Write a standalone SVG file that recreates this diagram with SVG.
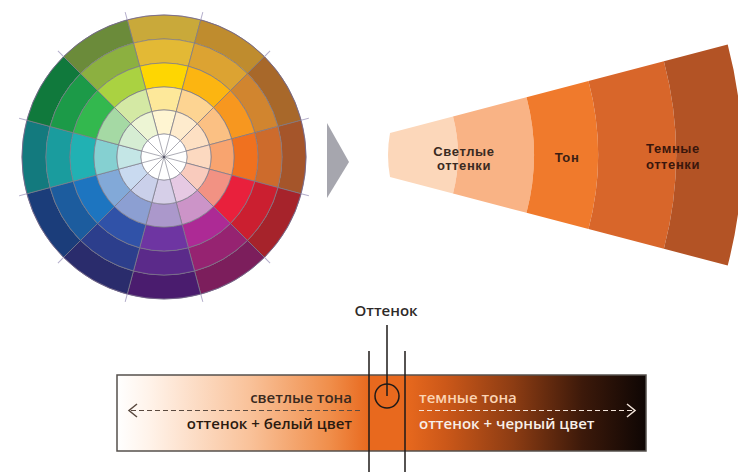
<svg xmlns="http://www.w3.org/2000/svg" xmlns:xlink="http://www.w3.org/1999/xlink" width="738" height="472" viewBox="0 0 738 472">
<style>
.seg{stroke:#7c7a88;stroke-width:0.7}
.tick{stroke:#b4aecb;stroke-width:1}
.hub{stroke:#8a8a96;stroke-width:0.7;fill:none}
.ft{font-family:"Liberation Sans",Arial,sans-serif;font-weight:700;font-size:13px;letter-spacing:0.6px;text-anchor:middle}
.bt{font-family:"Open Sans","DejaVu Sans",sans-serif;font-weight:600;font-size:15px}
.ln{stroke:#1e1a18;stroke-width:1.5;fill:none}
</style>
<defs>
<path id="rA" d="M-36.752,-137.161 A142,142 0 0 1 36.752,-137.161 L30.541,-113.979 A118,118 0 0 0 -30.541,-113.979Z"/>
<path id="rB" d="M-30.541,-113.979 A118,118 0 0 1 30.541,-113.979 L24.329,-90.797 A94,94 0 0 0 -24.329,-90.797Z"/>
<path id="rC" d="M-24.329,-90.797 A94,94 0 0 1 24.329,-90.797 L18.117,-67.615 A70,70 0 0 0 -18.117,-67.615Z"/>
<path id="rD" d="M-18.117,-67.615 A70,70 0 0 1 18.117,-67.615 L12.164,-45.399 A47,47 0 0 0 -12.164,-45.399Z"/>
<path id="rE" d="M-12.164,-45.399 A47,47 0 0 1 12.164,-45.399 L5.953,-22.216 A23,23 0 0 0 -5.953,-22.216Z"/>
<line id="tk" x1="-36.752" y1="-137.161" x2="-38.823" y2="-144.889"/>
<linearGradient id="barg" gradientUnits="userSpaceOnUse" x1="117" y1="0" x2="646" y2="0">
<stop offset="0" stop-color="#ffffff"/>
<stop offset="0.06" stop-color="#fff3ea"/>
<stop offset="0.25" stop-color="#f9c29a"/>
<stop offset="0.40" stop-color="#f08f4c"/>
<stop offset="0.477" stop-color="#e8691e"/>
<stop offset="0.545" stop-color="#e8691e"/>
<stop offset="0.62" stop-color="#cc5819"/>
<stop offset="0.75" stop-color="#8c3c13"/>
<stop offset="0.88" stop-color="#3c190a"/>
<stop offset="1" stop-color="#0e0604"/>
</linearGradient>
</defs>

<g id="wheel" transform="translate(164,157)">
<g class="seg">
<use xlink:href="#rA" fill="#c9a93a"/><use xlink:href="#rB" fill="#e3b935"/><use xlink:href="#rC" fill="#fed602"/><use xlink:href="#rD" fill="#fde89a"/><use xlink:href="#rE" fill="#fff5d2"/>
<g transform="rotate(30)"><use xlink:href="#rA" fill="#bf8c2e"/><use xlink:href="#rB" fill="#dca332"/><use xlink:href="#rC" fill="#fcb511"/><use xlink:href="#rD" fill="#fdd492"/><use xlink:href="#rE" fill="#feebcd"/></g>
<g transform="rotate(60)"><use xlink:href="#rA" fill="#a8682a"/><use xlink:href="#rB" fill="#d1852f"/><use xlink:href="#rC" fill="#f7971f"/><use xlink:href="#rD" fill="#fbc083"/><use xlink:href="#rE" fill="#fde0c3"/></g>
<g transform="rotate(90)"><use xlink:href="#rA" fill="#a5552a"/><use xlink:href="#rB" fill="#cd6b2c"/><use xlink:href="#rC" fill="#f0711f"/><use xlink:href="#rD" fill="#f8a46f"/><use xlink:href="#rE" fill="#fcd9c0"/></g>
<g transform="rotate(120)"><use xlink:href="#rA" fill="#a6232b"/><use xlink:href="#rB" fill="#cb1f30"/><use xlink:href="#rC" fill="#e9203c"/><use xlink:href="#rD" fill="#f29283"/><use xlink:href="#rE" fill="#f9cbbd"/></g>
<g transform="rotate(150)"><use xlink:href="#rA" fill="#7c1e5c"/><use xlink:href="#rB" fill="#962371"/><use xlink:href="#rC" fill="#ad2a95"/><use xlink:href="#rD" fill="#cc94c8"/><use xlink:href="#rE" fill="#e6c9e3"/></g>
<g transform="rotate(180)"><use xlink:href="#rA" fill="#4a1c6e"/><use xlink:href="#rB" fill="#5b2a8a"/><use xlink:href="#rC" fill="#6e35a2"/><use xlink:href="#rD" fill="#ab98cb"/><use xlink:href="#rE" fill="#d6cfe8"/></g>
<g transform="rotate(210)"><use xlink:href="#rA" fill="#2a2c6c"/><use xlink:href="#rB" fill="#2c3e8c"/><use xlink:href="#rC" fill="#3052a8"/><use xlink:href="#rD" fill="#8c9fd2"/><use xlink:href="#rE" fill="#cad0ea"/></g>
<g transform="rotate(240)"><use xlink:href="#rA" fill="#1b3d7a"/><use xlink:href="#rB" fill="#1c5c9e"/><use xlink:href="#rC" fill="#1d75c0"/><use xlink:href="#rD" fill="#82a9d8"/><use xlink:href="#rE" fill="#c9daf0"/></g>
<g transform="rotate(270)"><use xlink:href="#rA" fill="#137a7e"/><use xlink:href="#rB" fill="#1a9c9e"/><use xlink:href="#rC" fill="#21b1b3"/><use xlink:href="#rD" fill="#85d0d1"/><use xlink:href="#rE" fill="#c4e6e6"/></g>
<g transform="rotate(300)"><use xlink:href="#rA" fill="#10793c"/><use xlink:href="#rB" fill="#1c9a48"/><use xlink:href="#rC" fill="#33b84e"/><use xlink:href="#rD" fill="#a5d9a4"/><use xlink:href="#rE" fill="#d6edd3"/></g>
<g transform="rotate(330)"><use xlink:href="#rA" fill="#6b8b3a"/><use xlink:href="#rB" fill="#8cb040"/><use xlink:href="#rC" fill="#aad241"/><use xlink:href="#rD" fill="#d4e9a4"/><use xlink:href="#rE" fill="#edf5d4"/></g>
</g>
<circle r="23" fill="#ffffff" stroke="#8a8a96" stroke-width="0.7"/>
<path class="hub" d="M5.953,-22.216L-5.953,22.216M16.263,-16.263L-16.263,16.263M22.216,-5.953L-22.216,5.953M22.216,5.953L-22.216,-5.953M16.263,16.263L-16.263,-16.263M5.953,22.216L-5.953,-22.216"/>
<circle r="1.2" fill="#555566"/>
<circle r="142" fill="none" stroke="#6e5a8a" stroke-width="0.6"/>
<g class="tick">
<use xlink:href="#tk"/><use xlink:href="#tk" transform="rotate(30)"/><use xlink:href="#tk" transform="rotate(60)"/><use xlink:href="#tk" transform="rotate(90)"/><use xlink:href="#tk" transform="rotate(120)"/><use xlink:href="#tk" transform="rotate(150)"/><use xlink:href="#tk" transform="rotate(180)"/><use xlink:href="#tk" transform="rotate(210)"/><use xlink:href="#tk" transform="rotate(240)"/><use xlink:href="#tk" transform="rotate(270)"/><use xlink:href="#tk" transform="rotate(300)"/><use xlink:href="#tk" transform="rotate(330)"/>
</g>
</g>

<g id="pointer">
<polygon points="327,123 349,162 327,198" fill="#a6a6ae"/>
</g>

<g id="fan">
<path d="M390,133 L453.0,116.5 A152,152 0 0 1 453.0,193.5 L390,177 Q386,155 390,133Z" fill="#fcd7ba"/>
<path d="M453.0,116.5 L526.5,97.2 A228,228 0 0 1 526.5,212.8 L453.0,193.5 A152,152 0 0 0 453.0,116.5Z" fill="#f9b385"/>
<path d="M526.5,97.2 L588.5,81.0 A292,292 0 0 1 588.5,229.0 L526.5,212.8 A228,228 0 0 0 526.5,97.2Z" fill="#f07a2c"/>
<path d="M588.5,81.0 L663.9,61.2 A370,370 0 0 1 663.9,248.8 L588.5,229.0 A292,292 0 0 0 588.5,81.0Z" fill="#d8662a"/>
<path d="M663.9,61.2 L727.7,44.5 A436,436 0 0 1 727.7,265.5 L663.9,248.8 A370,370 0 0 0 663.9,61.2Z" fill="#b35325"/>
<text class="ft" fill="#3a2a22" x="464" y="155.5">Светлые</text>
<text class="ft" fill="#3a2a22" x="464" y="170">оттенки</text>
<text class="ft" fill="#3a1e14" x="567" y="162">Тон</text>
<text class="ft" fill="#3a160c" x="673" y="153">Темные</text>
<text class="ft" fill="#3a160c" x="673" y="168.5">оттенки</text>
</g>

<g id="bar">
<rect x="117" y="375" width="529" height="76" fill="url(#barg)" stroke="#55504c" stroke-width="1.5"/>
<text class="bt" fill="#3a2a20" x="352" y="403" text-anchor="end">светлые тона</text>
<text class="bt" fill="#2a1a10" x="352" y="429" text-anchor="end">оттенок + белый цвет</text>
<text class="bt" fill="#fbd4b4" x="419" y="403">темные тона</text>
<text class="bt" fill="#f8efe8" x="419" y="429">оттенок + черный цвет</text>
</g>

<g id="label">
<text class="bt" fill="#2e2a28" x="386" y="316" text-anchor="middle">Оттенок</text>
</g>

<g id="connectors">
<line class="ln" x1="387" y1="325" x2="387" y2="396"/>
<circle class="ln" cx="387" cy="396" r="12"/>
<line class="ln" x1="369" y1="351" x2="369" y2="472"/>
<line class="ln" x1="405" y1="351" x2="405" y2="472"/>
<line x1="131" y1="410.5" x2="362" y2="410.5" stroke="#5a4a40" stroke-width="1.2" stroke-dasharray="5,3"/>
<polyline points="137,404 129,410.5 137,417" fill="none" stroke="#5a4a40" stroke-width="1.5"/>
<line x1="419" y1="410.5" x2="633" y2="410.5" stroke="#f4e6dc" stroke-width="1.2" stroke-dasharray="5,3"/>
<polyline points="627,404 635,410.5 627,417" fill="none" stroke="#f4e6dc" stroke-width="1.5"/>
</g>
</svg>
